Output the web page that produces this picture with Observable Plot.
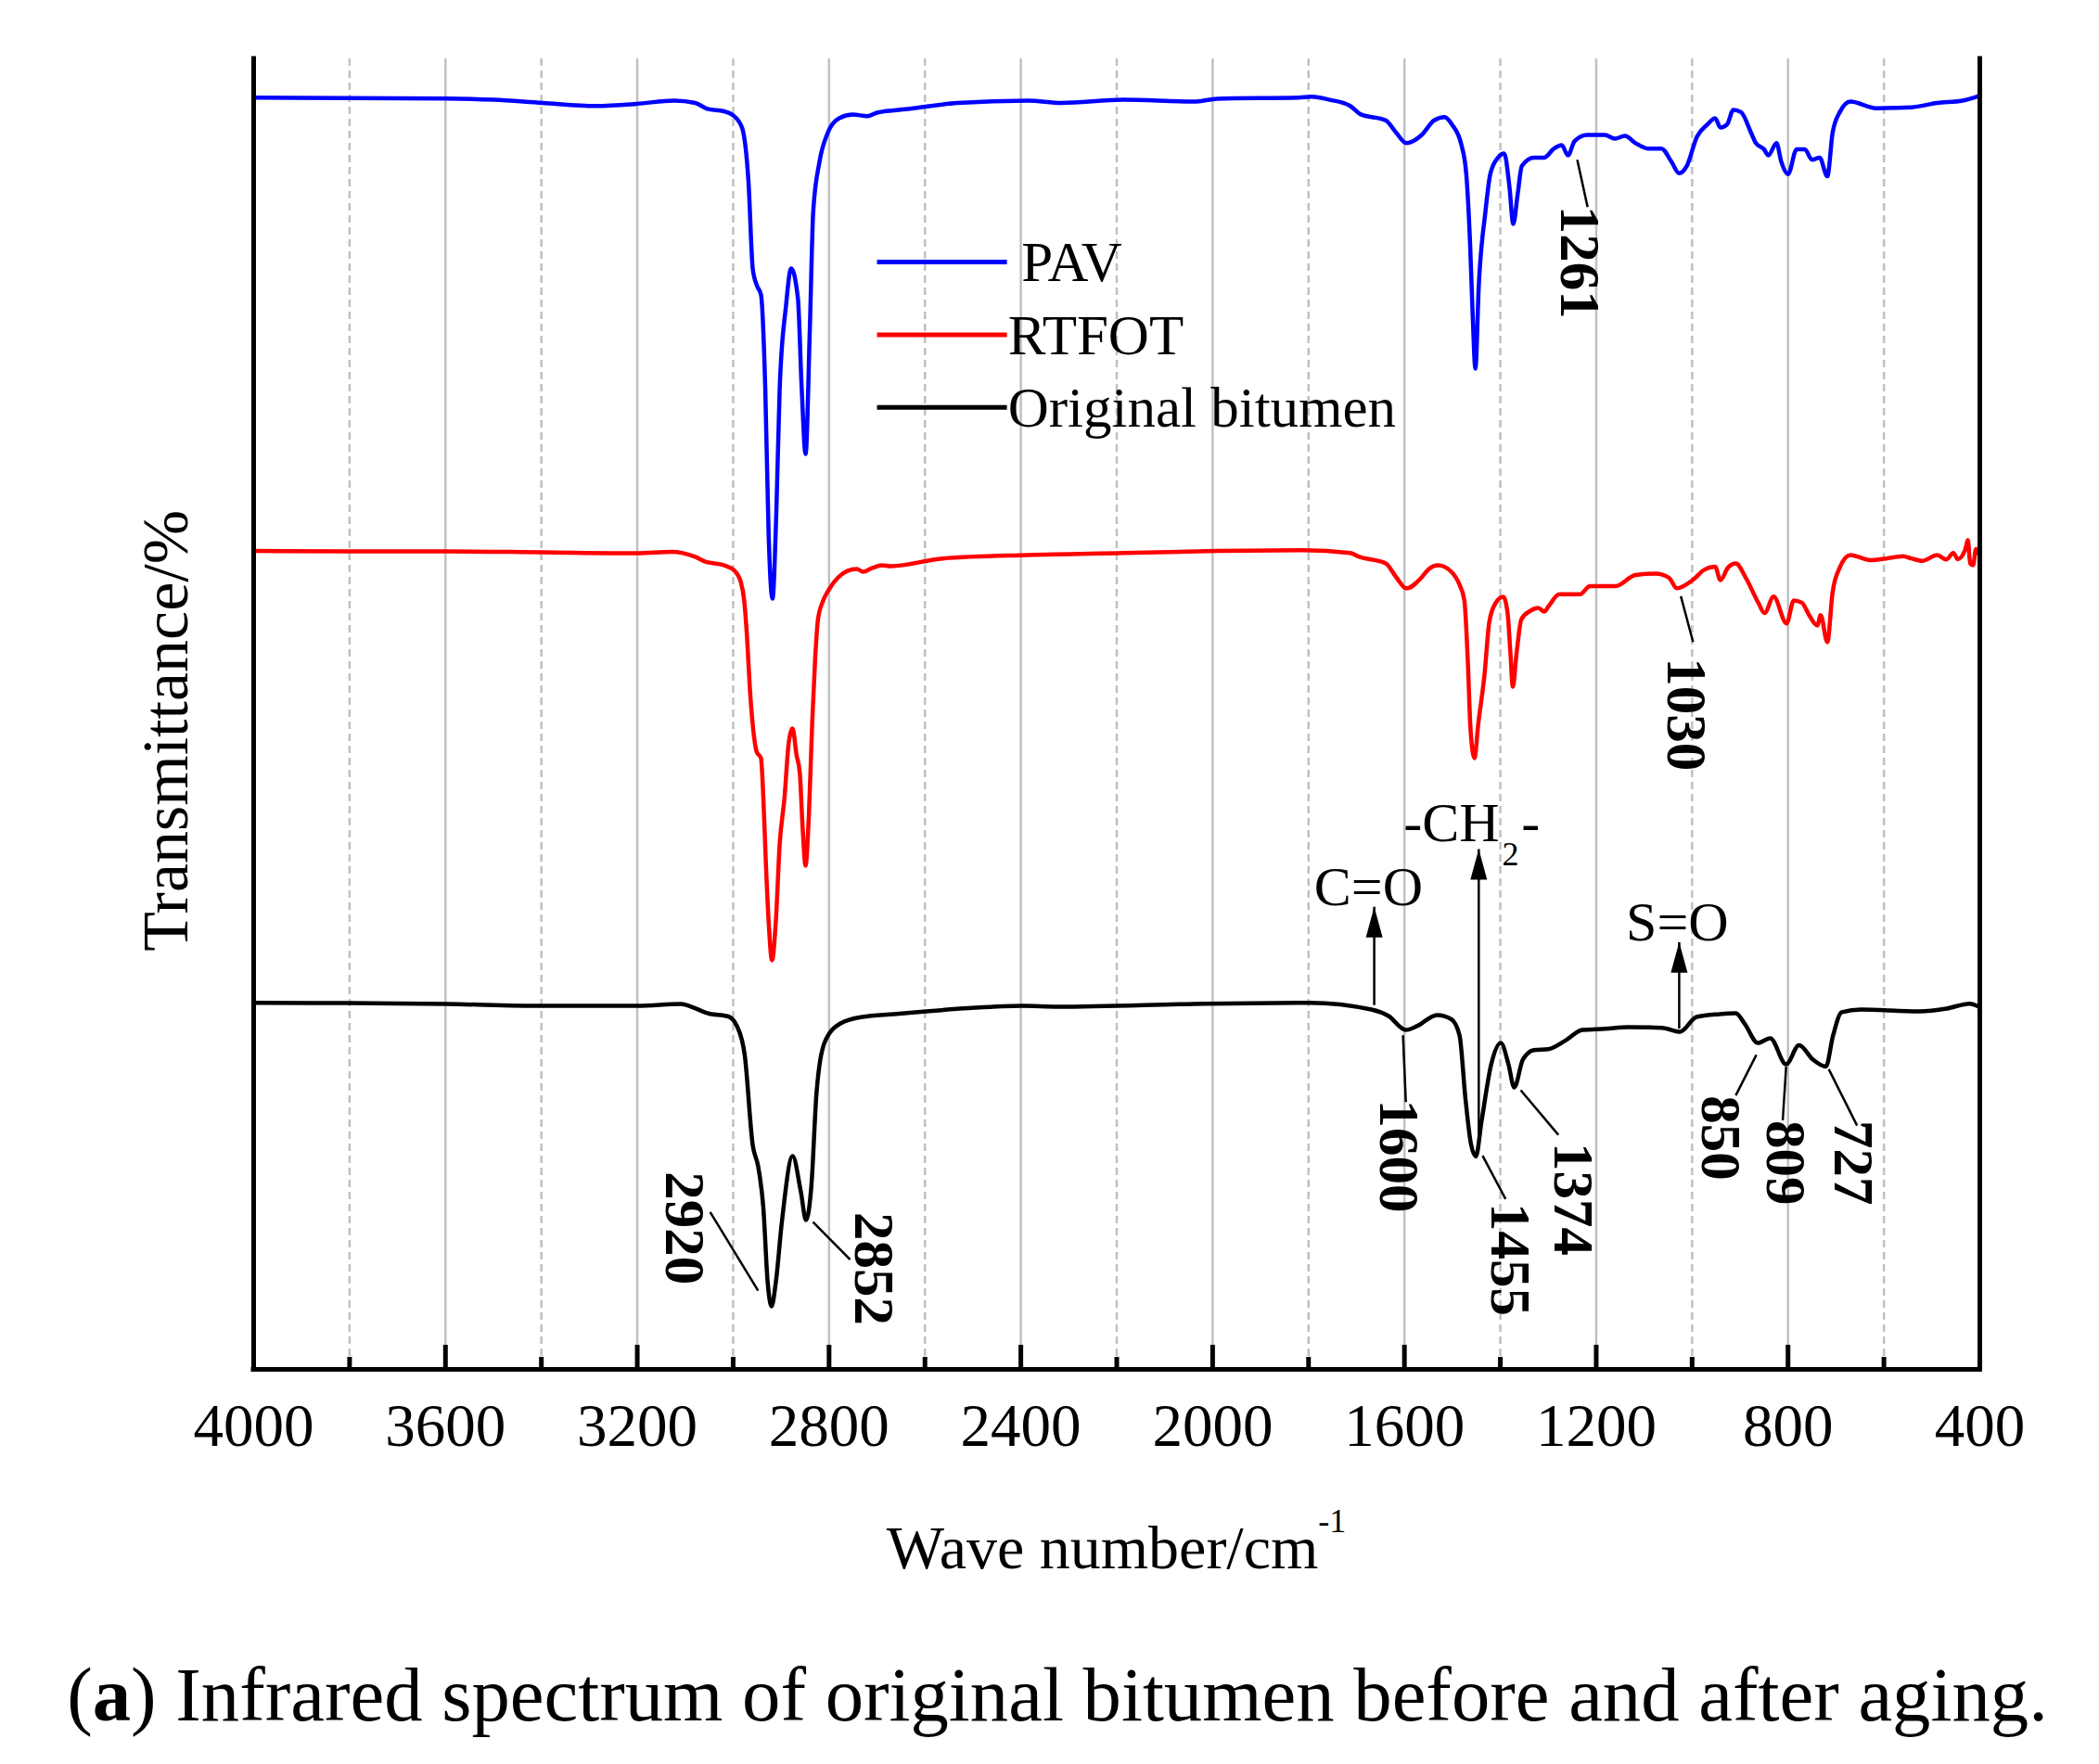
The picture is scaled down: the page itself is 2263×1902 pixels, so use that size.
<!DOCTYPE html>
<html><head><meta charset="utf-8">
<script src="https://cdn.jsdelivr.net/npm/d3@7"></script>
<script src="https://cdn.jsdelivr.net/npm/@observablehq/plot@0.6"></script>
<style>
html,body{margin:0;padding:0;background:#fff;overflow:hidden;}
#chart{position:relative;width:2263px;height:1902px;overflow:hidden;background:#fff;}
#chart svg{display:block;}
#caption{position:absolute;white-space:nowrap;font-family:"Liberation Serif","Times New Roman",serif;color:#000;line-height:1;}
</style></head><body><div id="chart"></div>
<script>
// ---- Spectra (wavenumber cm-1, transmittance in arbitrary offset units) ----
const pavWn = [4000,3805,3598,3500,3398,3286,3201,3123,3079,3054,3019,2998,2981,2968,2959,2950,2942,2933,2926,2918,2910,2903,2890,2879,2865,2857,2849,2840,2833,2820,2803,2779,2750,2720,2700,2631,2532,2385,2315,2187,2039,1990,1820,1793,1756,1713,1692,1639,1617,1596,1564,1538,1516,1501,1481,1471,1463,1458,1452,1445,1431,1421,1405,1392,1381,1373,1364,1355,1330,1309,1288,1272,1259,1245,1219,1182,1161,1140,1118,1092,1064,1043,1027,1011,990,968,952,941,927,914,898,877,867,850,841,824,814,800,782,765,750,734,718,707,692,670,616,543,489,436,400];
const pavT = [97.05,97.01,96.98,96.88,96.64,96.41,96.57,96.82,96.64,96.19,96.0,95.63,94.69,90.59,83.93,82.66,82.02,74.81,63.69,58.81,65.32,74.81,81.10,84.01,81.74,74.81,69.85,79.55,88.36,92.14,94.34,95.47,95.75,95.63,95.90,96.19,96.64,96.82,96.64,96.88,96.74,96.96,97.05,97.11,96.88,96.41,95.78,95.31,94.36,93.57,94.20,95.31,95.56,95.0,93.42,91.20,85.84,80.78,76.36,82.66,88.36,91.20,92.46,92.78,90.25,87.40,89.62,91.83,92.46,92.46,93.16,93.42,92.64,93.73,94.20,94.20,93.91,94.13,93.57,93.16,93.16,92.14,91.27,91.83,94.06,95.0,95.47,94.76,95.0,96.11,95.94,94.36,93.57,93.10,92.64,93.57,92.14,91.20,93.10,93.10,92.31,92.46,91.04,94.36,95.94,96.74,96.24,96.31,96.64,96.82,97.20];

const rtfotWn = [4000,3805,3598,3398,3201,3128,3079,3058,3019,2997,2984,2977,2971,2965,2958,2951,2942,2937,2932,2926,2919,2911,2903,2893,2884,2876,2868,2861,2855,2849,2842,2835,2829,2823,2813,2800,2781,2762,2742,2729,2710,2690,2671,2563,2385,2187,1990,1812,1713,1694,1639,1617,1596,1564,1549,1530,1504,1485,1475,1468,1462,1454,1446,1433,1423,1410,1394,1385,1379,1374,1366,1356,1337,1321,1308,1299,1277,1234,1213,1160,1118,1076,1048,1032,999,974,952,941,925,909,888,862,849,830,803,788,771,756,739,732,718,707,692,670,628,600,560,543,520,489,470,455,446,430,425,420,414,408,404];
const rtfotT = [62.45,62.42,62.42,62.35,62.28,62.39,62.0,61.64,61.36,60.93,60.08,58.67,55.84,51.88,48.76,47.13,46.64,43.59,38.85,34.18,31.21,34.18,40.06,43.59,47.84,48.90,46.92,45.51,41.26,38.43,42.39,49.47,54.21,57.25,58.60,59.52,60.44,60.93,61.08,60.86,61.15,61.36,61.29,61.88,62.14,62.29,62.45,62.51,62.29,62.0,61.50,60.44,59.60,60.44,61.08,61.36,60.93,59.87,58.67,54.21,48.76,46.64,49.26,53.01,57.04,58.46,58.95,57.75,54.71,52.09,54.71,57.25,57.89,58.10,57.82,58.25,59.14,59.14,59.77,59.77,60.62,60.72,60.40,59.60,60.23,61.03,61.25,60.23,61.19,61.50,60.40,58.50,57.71,58.97,56.92,58.67,58.50,57.55,56.76,57.55,55.50,59.31,61.19,62.14,61.75,61.85,62.05,61.88,61.70,62.14,61.80,62.30,61.82,62.60,63.28,61.50,61.36,62.60,62.29];

const origWn = [4000,3805,3598,3398,3198,3109,3087,3054,3010,2993,2976,2959,2948,2937,2928,2920,2911,2898,2876,2859,2848,2837,2826,2809,2776,2731,2665,2598,2509,2398,2323,2013,1799,1669,1633,1597,1574,1532,1502,1485,1473,1461,1451,1439,1419,1399,1383,1371,1353,1330,1300,1264,1229,1181,1134,1063,1025,991,943,909,890,863,837,804,777,748,721,706,688,647,527,469,421,403];
const origT = [27.97,27.95,27.88,27.74,27.74,27.88,27.67,27.18,26.93,26.26,24.02,17.06,15.50,12.31,6.65,4.81,6.65,11.39,16.28,13.59,11.39,13.94,21.16,24.98,26.40,26.89,27.11,27.32,27.56,27.74,27.67,27.91,27.98,27.46,26.96,25.90,26.19,27.04,26.72,25.48,20.76,17.15,16.25,18.97,23.28,24.91,23.28,21.51,23.64,24.37,24.44,25.10,25.90,25.99,26.11,26.07,25.76,26.89,27.11,27.18,26.35,24.91,25.27,23.28,24.73,23.64,23.11,25.48,27.25,27.46,27.32,27.53,27.91,27.69];

// ---- Axes ----
const xTickLabels = [4000,3600,3200,2800,2400,2000,1600,1200,800,400];
const xMajorInner = [3600,3200,2800,2400,2000,1600,1200,800];
const xMinor = [3800,3400,3000,2600,2200,1800,1400,1000,600];

// ---- Legend ----
const legendNames = ["PAV","RTFOT","Original bitumen"];
const legendColors = ["#0000ff","#ff0000","#000000"];
const legendLineWn = [2700, 2429];
const legendLineT = [84.5, 78.95, 73.41];
const legendTextWn = [2399, 2427, 2427];
const legendTextT = [83.05, 77.46, 71.93];

// ---- Peak labels (rotated) ----
const peakText = ["2920","2852","1600","1455","1374","850","809","727","1261","1030"];
const peakTextWn = [3102,2708,1613,1381,1250,942,807,665,1236,1014];
const peakTextT = [15.1,12.0,20.6,12.7,17.3,20.9,19.0,19.0,88.8,54.3];
const leaderWn1 = [3048,2833.5,1603,1437,1357.5,866,804,715,1239.6,1023.5];
const leaderT1 = [12.0,11.25,25.5,16.3,21.3,24.0,23.1,22.9,92.3,59.0];
const leaderWn2 = [2948,2756,1597,1389,1279,909,811,656,1218,998];
const leaderT2 = [6.0,8.38,20.4,13.0,17.9,20.9,19.0,18.6,88.7,55.5];

// ---- Group arrows ----
const arrowWn = [1663,1445,1027];
const arrowFromT = [27.8,17.5,26.0];
const arrowToT = [35.3,39.7,32.6];
const groupText = ["C=O","-CH","2","-","S=O"];
const groupWn = [1675,1402,1396,1356,1031];
const groupT = [35.39,40.27,38.43,40.27,32.70];
const groupAnchor = ["middle","end","start","start","middle"];
const groupSize = [60,60,36,60,60];

const rows = (wn, t) => wn.map((w, i) => ({wn: w, t: t[i]}));
const pav = rows(pavWn, pavT), rtfot = rows(rtfotWn, rtfotT), orig = rows(origWn, origT);
const legend = legendNames.map((n, i) => ({name: n, color: legendColors[i], lt: legendLineT[i], tx: legendTextWn[i], ty: legendTextT[i]}));
const peaks = peakText.map((s, i) => ({s, x: peakTextWn[i], y: peakTextT[i], x1: leaderWn1[i], y1: leaderT1[i], x2: leaderWn2[i], y2: leaderT2[i]}));
const arrows = arrowWn.map((w, i) => ({x: w, y1: arrowFromT[i], y2: arrowToT[i]}));
const groups = groupText.map((s, i) => ({s, x: groupWn[i], y: groupT[i], a: groupAnchor[i], f: groupSize[i]}));

const FONT = "'Liberation Serif','Times New Roman',serif";
const W = 2263, H = 1750;
const head = {draw(ctx) { ctx.moveTo(0, 0); ctx.lineTo(-9, 33); ctx.lineTo(9, 33); ctx.closePath(); }};

const chart = Plot.plot({
  width: W, height: H,
  marginLeft: 273, marginRight: 129, marginTop: 63, marginBottom: H - 1476,
  x: {domain: [4000, 400], axis: null},
  y: {domain: [0, 100], axis: null},
  style: {fontFamily: FONT, background: "white", color: "black"},
  marks: [
    Plot.ruleX(xMajorInner, {stroke: "#c0c0c0", strokeWidth: 2.5}),
    Plot.ruleX(xMinor, {stroke: "#c0c0c0", strokeWidth: 2.5, strokeDasharray: "8,5"}),
    Plot.line(orig, {x: "wn", y: "t", stroke: "#000000", strokeWidth: 4.5, curve: "monotone-x"}),
    Plot.line(rtfot, {x: "wn", y: "t", stroke: "#ff0000", strokeWidth: 4.5, curve: "monotone-x"}),
    Plot.line(pav, {x: "wn", y: "t", stroke: "#0000ff", strokeWidth: 4.5, curve: "monotone-x"}),
    // axis frame
    Plot.ruleX([4000, 400], {stroke: "black", strokeWidth: 5, strokeLinecap: "square"}),
    Plot.ruleY([0], {stroke: "black", strokeWidth: 5, strokeLinecap: "square"}),
    Plot.ruleX(xMajorInner, {y1: () => 0, y2: () => 1.84, stroke: "black", strokeWidth: 5}),
    Plot.ruleX(xMinor, {y1: () => 0, y2: () => 0.92, stroke: "black", strokeWidth: 5}),
    Plot.text(xTickLabels, {x: d => d, y: () => 0, text: d => String(d), dy: 36, lineAnchor: "top", fontSize: 65, fill: "black"}),
    // legend
    Plot.link(legend, {x1: () => legendLineWn[0], x2: () => legendLineWn[1], y1: "lt", y2: "lt", stroke: "color", strokeWidth: 5}),
    Plot.text(legend, {x: "tx", y: "ty", text: "name", textAnchor: "start", lineAnchor: "bottom", fontSize: 61, fill: "black"}),
    // peak annotations
    Plot.link(peaks, {x1: "x1", y1: "y1", x2: "x2", y2: "y2", stroke: "black", strokeWidth: 2.5}),
    Plot.text(peaks, {x: "x", y: "y", text: "s", rotate: 90, textAnchor: "start", lineAnchor: "middle", fontSize: 61, fontWeight: "bold", fill: "black"}),
    // group arrows
    Plot.link(arrows, {x1: "x", x2: "x", y1: "y1", y2: "y2", stroke: "black", strokeWidth: 2.5}),
    Plot.dot(arrows, {x: "x", y: "y2", symbol: head, r: 10, fill: "black", stroke: "none"}),
    ...groups.map(g => Plot.text([g], {x: "x", y: "y", text: "s", textAnchor: g.a, lineAnchor: "bottom", fontSize: g.f, fill: "black"}))
  ]
});

document.getElementById("chart").appendChild(chart);
const xs = chart.scale("x"), ys = chart.scale("y");
const svg = d3.select(chart);
// x title with superscript
const xt = svg.append("text").attr("x", xs.apply(2200)).attr("y", 1691)
  .attr("text-anchor", "middle").attr("font-family", FONT).attr("font-size", 66).attr("fill", "black");
xt.append("tspan").text("Wave number/cm");
xt.append("tspan").attr("font-size", 36).attr("dy", -39).text("-1");
// y title
svg.append("text").attr("transform", `translate(202,${ys.apply(48.7)}) rotate(-90)`)
  .attr("text-anchor", "middle").attr("font-family", FONT).attr("font-size", 70).attr("fill", "black")
  .text("Transmittance/%");

// caption
const cap = document.createElement("div");
cap.id = "caption";
cap.innerHTML = "(<b>a</b>) Infrared spectrum of original bitumen before and after aging.";
document.getElementById("chart").appendChild(cap);
let fs = 72;
cap.style.fontSize = fs + "px";
const w0 = cap.getBoundingClientRect().width;
fs = fs * 2136 / w0;
cap.style.fontSize = fs + "px";
const w1 = cap.getBoundingClientRect().width;
cap.style.left = (1140 - w1 / 2) + "px";
cap.style.top = (1855 - 0.8375 * fs) + "px";
</script></body></html>
